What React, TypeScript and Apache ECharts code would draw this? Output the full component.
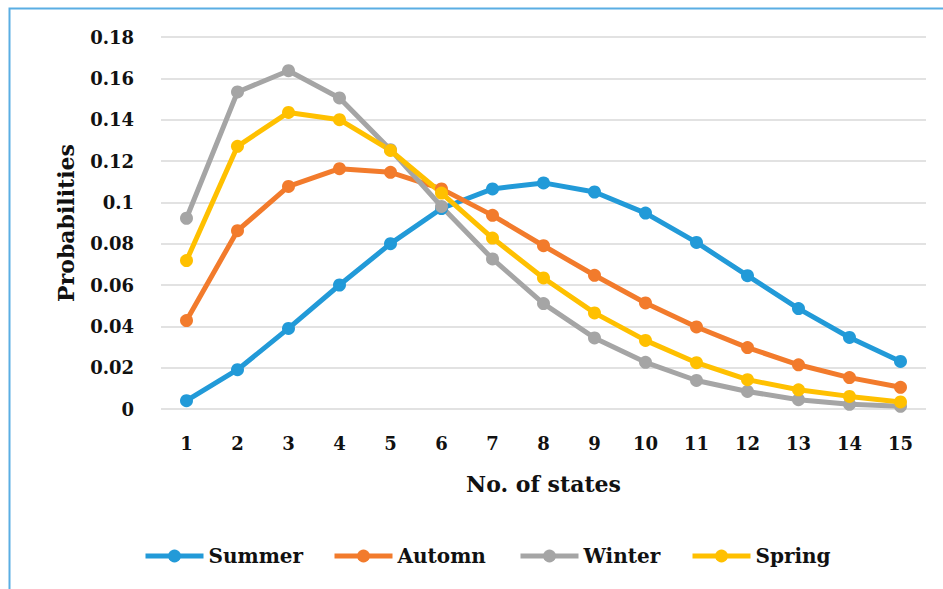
import React, { useEffect, useRef } from "react";
import * as echarts from "echarts";

const categories = ["1", "2", "3", "4", "5", "6", "7", "8", "9", "10", "11", "12", "13", "14", "15"];
const summer = [0.004, 0.019, 0.039, 0.06, 0.08, 0.097, 0.1065, 0.1094, 0.105, 0.0948, 0.0806, 0.0645, 0.0486, 0.0346, 0.023];
const automn = [0.0428, 0.0863, 0.1077, 0.1163, 0.1145, 0.1065, 0.0937, 0.079, 0.0647, 0.0513, 0.0397, 0.0297, 0.0214, 0.0152, 0.0105];
const winter = [0.0923, 0.1534, 0.1637, 0.1505, 0.1255, 0.098, 0.0726, 0.051, 0.0344, 0.0226, 0.0138, 0.0085, 0.0045, 0.0023, 0.0013];
const spring = [0.0718, 0.1271, 0.1435, 0.14, 0.1251, 0.1045, 0.0827, 0.0634, 0.0465, 0.0332, 0.0224, 0.0142, 0.0093, 0.0061, 0.0034];
const seriesNames = ["Summer", "Automn", "Winter", "Spring"];
const colors = ["#229ad8", "#f27b2c", "#a5a5a5", "#ffc000"];

const FONT = "'DejaVu Serif', 'Liberation Serif', serif";

export default function App() {
  const ref = useRef<HTMLDivElement>(null);
  useEffect(() => {
    document.body.style.margin = "0";
    const chart = echarts.init(ref.current!, null, { renderer: "svg" });
    const data = [summer, automn, winter, spring];
    const legendLeft = [138, 327, 513, 685];
    chart.setOption({
      animation: false,
      backgroundColor: "#ffffff",
      color: colors,
      textStyle: { fontFamily: FONT },
      graphic: [
        {
          type: "rect",
          shape: { x: 9.5, y: 8.5, width: 1000, height: 700 },
          style: { fill: "none", stroke: "#5aaee3", lineWidth: 2 },
          silent: true,
        },
      ],
      grid: { left: 161, right: 17, top: 37, bottom: 180, containLabel: false },
      xAxis: {
        type: "category",
        data: categories,
        boundaryGap: true,
        name: "No. of states",
        nameLocation: "middle",
        nameGap: 64,
        nameTextStyle: { fontFamily: FONT, fontWeight: "bold", fontSize: 22, color: "#111" },
        axisLine: { show: false },
        axisTick: { show: false },
        axisLabel: { fontFamily: FONT, fontWeight: "bold", fontSize: 18, color: "#111", margin: 25 },
      },
      yAxis: {
        type: "value",
        min: 0,
        max: 0.18,
        interval: 0.02,
        name: "Probabilities",
        nameLocation: "middle",
        nameGap: 84,
        nameTextStyle: { fontFamily: FONT, fontWeight: "bold", fontSize: 22, color: "#111" },
        axisLine: { show: false },
        axisTick: { show: false },
        axisLabel: { fontFamily: FONT, fontWeight: "bold", fontSize: 18, color: "#111", margin: 27 },
        splitLine: { lineStyle: { color: "#d9d9d9", width: 1.5 } },
      },
      legend: seriesNames.map((n, i) => ({
        data: [n],
        left: legendLeft[i],
        top: 541,
        itemWidth: 58,
        itemHeight: 16,
        itemGap: 0,
        lineStyle: { width: 5 },
        textStyle: { fontFamily: FONT, fontWeight: "bold", fontSize: 20, color: "#111" },
      })),
      series: seriesNames.map((n, i) => ({
        name: n,
        type: "line",
        data: data[i],
        symbol: "circle",
        symbolSize: 13,
        lineStyle: { width: 5, color: colors[i] },
        itemStyle: { color: colors[i] },
      })),
    });
    return () => chart.dispose();
  }, []);
  return <div ref={ref} style={{ position: "absolute", left: 0, top: 0, width: 943, height: 589 }} />;
}
